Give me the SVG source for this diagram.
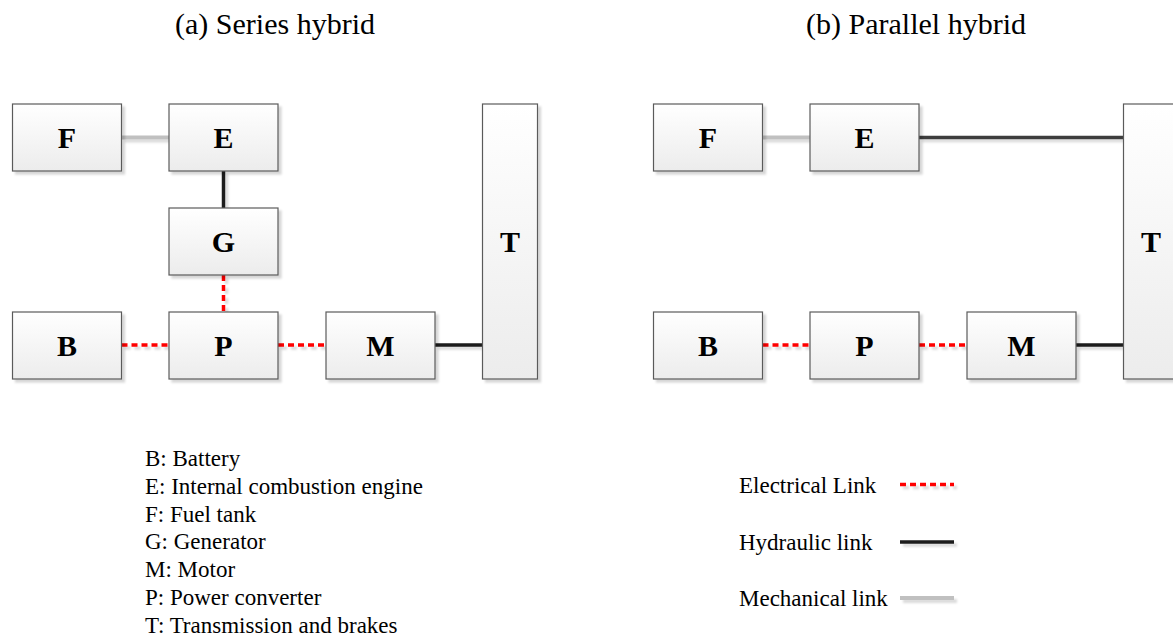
<svg xmlns="http://www.w3.org/2000/svg" width="1173" height="639" viewBox="0 0 1173 639">
  <defs>
    <linearGradient id="boxFill" x1="0" y1="0" x2="0" y2="1">
      <stop offset="0" stop-color="#ffffff"/>
      <stop offset="1" stop-color="#ececec"/>
    </linearGradient>
    <filter id="shadow" x="-20%" y="-20%" width="150%" height="150%">
      <feDropShadow dx="3" dy="3" stdDeviation="1" flood-color="#000" flood-opacity="0.16"/>
    </filter>
    <!-- user-space region so straight lines (zero-height bbox) keep their shadow -->
    <filter id="lineShadow" filterUnits="userSpaceOnUse" x="0" y="0" width="1173" height="639">
      <feDropShadow dx="3" dy="3" stdDeviation="1" flood-color="#000" flood-opacity="0.14"/>
    </filter>
    <style>
      .box { fill: url(#boxFill); stroke: #5a5a5a; stroke-width: 1.2; filter: url(#shadow); }
      .lbl { font-family: "Liberation Serif", "Times New Roman", serif; font-weight: bold; font-size: 30px; text-anchor: middle; fill: #000; }
      .title { font-family: "Liberation Serif", "Times New Roman", serif; font-size: 30px; text-anchor: middle; fill: #000; }
      .key { font-family: "Liberation Serif", "Times New Roman", serif; font-size: 23px; fill: #000; }
      .elec { stroke: #ff0000; stroke-width: 3.5; stroke-dasharray: 6 4; fill: none; filter: url(#lineShadow); }
      .hyd { stroke: #1a1a1a; stroke-width: 3.5; fill: none; filter: url(#lineShadow); }
      .mech { stroke: #c0c0c0; stroke-width: 4; fill: none; filter: url(#lineShadow); }
    </style>
  </defs>

  <!-- titles -->
  <text class="title" x="275" y="34">(a) Series hybrid</text>
  <text class="title" x="916" y="34">(b) Parallel hybrid</text>

  <g id="connectors">
    <!-- series hybrid links -->
    <line class="mech" x1="121.5" y1="137.5" x2="169" y2="137.5"/>
    <line class="hyd" x1="223.5" y1="171" x2="223.5" y2="208"/>
    <line class="elec" x1="223.5" y1="275" x2="223.5" y2="312"/>
    <line class="elec" x1="121.5" y1="345" x2="169" y2="345"/>
    <line class="elec" x1="278" y1="345" x2="326" y2="345"/>
    <line class="hyd" x1="435" y1="345" x2="482.5" y2="345"/>
    <!-- parallel hybrid links -->
    <line class="mech" x1="762.5" y1="137.5" x2="810" y2="137.5"/>
    <line class="hyd" style="stroke:#3c3c3c" x1="919" y1="137.5" x2="1123.5" y2="137.5"/>
    <line class="elec" x1="762.5" y1="345" x2="810" y2="345"/>
    <line class="elec" x1="919" y1="345" x2="967" y2="345"/>
    <line class="hyd" x1="1076" y1="345" x2="1123.5" y2="345"/>
  </g>

  <!-- series hybrid nodes -->
  <g id="a-F"><rect class="box" x="12.5" y="104" width="109" height="67"/><text class="lbl" x="67" y="148">F</text></g>
  <g id="a-E"><rect class="box" x="169" y="104" width="109" height="67"/><text class="lbl" x="223.5" y="148">E</text></g>
  <g id="a-G"><rect class="box" x="169" y="208" width="109" height="67"/><text class="lbl" x="223.5" y="252">G</text></g>
  <g id="a-B"><rect class="box" x="12.5" y="312" width="109" height="67"/><text class="lbl" x="67" y="356">B</text></g>
  <g id="a-P"><rect class="box" x="169" y="312" width="109" height="67"/><text class="lbl" x="223.5" y="356">P</text></g>
  <g id="a-M"><rect class="box" x="326" y="312" width="109" height="67"/><text class="lbl" x="380.5" y="356">M</text></g>
  <g id="a-T"><rect class="box" x="482.5" y="104" width="55" height="275"/><text class="lbl" x="510" y="252">T</text></g>

  <!-- parallel hybrid nodes -->
  <g id="b-F"><rect class="box" x="653.5" y="104" width="109" height="67"/><text class="lbl" x="708" y="148">F</text></g>
  <g id="b-E"><rect class="box" x="810" y="104" width="109" height="67"/><text class="lbl" x="864.5" y="148">E</text></g>
  <g id="b-B"><rect class="box" x="653.5" y="312" width="109" height="67"/><text class="lbl" x="708" y="356">B</text></g>
  <g id="b-P"><rect class="box" x="810" y="312" width="109" height="67"/><text class="lbl" x="864.5" y="356">P</text></g>
  <g id="b-M"><rect class="box" x="967" y="312" width="109" height="67"/><text class="lbl" x="1021.5" y="356">M</text></g>
  <g id="b-T"><rect class="box" x="1123.5" y="104" width="55" height="275"/><text class="lbl" x="1151" y="252">T</text></g>

  <!-- abbreviations -->
  <g id="abbrev">
    <text class="key" x="145" y="466">B: Battery</text>
    <text class="key" x="145" y="494">E: Internal combustion engine</text>
    <text class="key" x="145" y="521.5">F: Fuel tank</text>
    <text class="key" x="145" y="549">G: Generator</text>
    <text class="key" x="145" y="577">M: Motor</text>
    <text class="key" x="145" y="605">P: Power converter</text>
    <text class="key" x="145" y="633">T: Transmission and brakes</text>
  </g>

  <!-- link legend -->
  <g id="legend">
    <text class="key" x="739" y="493">Electrical Link</text>
    <line class="elec" x1="900" y1="484.5" x2="954" y2="484.5"/>
    <text class="key" x="739" y="550">Hydraulic link</text>
    <line class="hyd" x1="900" y1="542" x2="954" y2="542"/>
    <text class="key" x="739" y="606">Mechanical link</text>
    <line class="mech" x1="900" y1="598" x2="954" y2="598"/>
  </g>
</svg>
